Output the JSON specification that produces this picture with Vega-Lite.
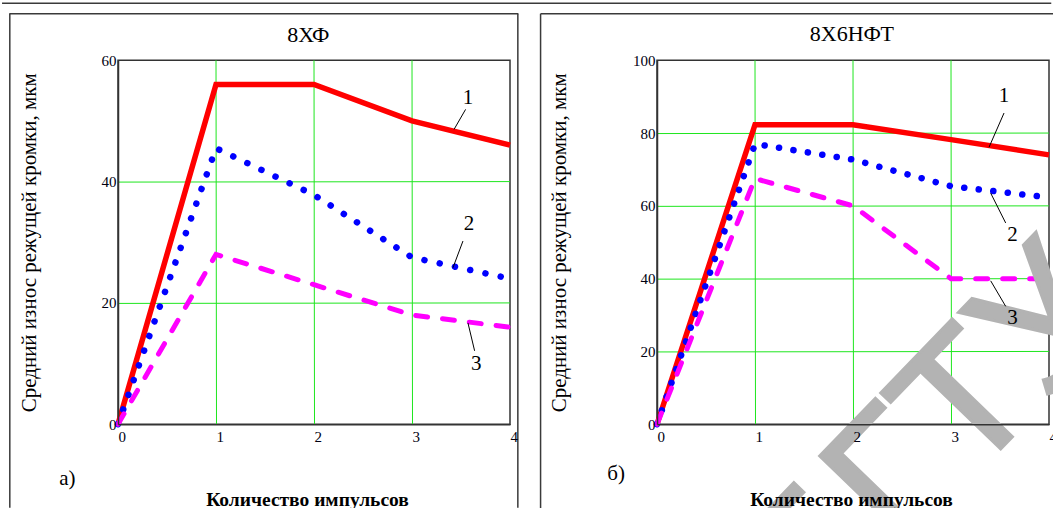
{
  "$schema": "https://vega.github.io/schema/vega-lite/v6.json",
  "background": "white",
  "padding": {"left": 0, "top": 1.25, "right": 0, "bottom": 0},
  "autosize": {"type": "pad"},
  "spacing": 147,
  "bounds": "flush",
  "config": {
    "view": {"stroke": "#333333", "strokeWidth": 1.5},
    "axis": {
      "grid": false, "zindex": 1,
      "domain": true, "domainColor": "#333333", "domainWidth": 1.5, "ticks": false,
      "labelFont": "Liberation Serif", "labelFontSize": 15, "labelColor": "#000011", "labelFlush": false,
      "titleFont": "Liberation Serif", "titleColor": "#000000", "titleFontWeight": "normal"
    },
    "text": {"font": "Liberation Serif", "color": "#000000"}
  },
  "datasets": {
    "curvesA": [
      {"curve": "1", "x": 0, "y": 0}, {"curve": "1", "x": 1, "y": 56}, {"curve": "1", "x": 2, "y": 56}, {"curve": "1", "x": 3, "y": 50}, {"curve": "1", "x": 4, "y": 46},
      {"curve": "2", "x": 0, "y": 0}, {"curve": "2", "x": 1, "y": 45.5}, {"curve": "2", "x": 2, "y": 37.8}, {"curve": "2", "x": 3, "y": 27.5}, {"curve": "2", "x": 4, "y": 24},
      {"curve": "3", "x": 0, "y": 0}, {"curve": "3", "x": 1, "y": 28}, {"curve": "3", "x": 2, "y": 23}, {"curve": "3", "x": 3, "y": 18}, {"curve": "3", "x": 4, "y": 16}
    ],
    "curvesB": [
      {"curve": "1", "x": 0, "y": 0}, {"curve": "1", "x": 1, "y": 82.3}, {"curve": "1", "x": 2, "y": 82.3}, {"curve": "1", "x": 3, "y": 78.2}, {"curve": "1", "x": 4, "y": 74},
      {"curve": "2", "x": 0, "y": 0}, {"curve": "2", "x": 1, "y": 77}, {"curve": "2", "x": 2, "y": 72.7}, {"curve": "2", "x": 3, "y": 65.4}, {"curve": "2", "x": 4, "y": 62.3},
      {"curve": "3", "x": 0, "y": 0}, {"curve": "3", "x": 1, "y": 67.5}, {"curve": "3", "x": 2, "y": 60}, {"curve": "3", "x": 3, "y": 40}, {"curve": "3", "x": 4, "y": 40}
    ],
    "gridA": [
      {"x": 1, "y": 0, "x2": 1, "y2": 60}, {"x": 2, "y": 0, "x2": 2, "y2": 60}, {"x": 3, "y": 0, "x2": 3, "y2": 60},
      {"x": 0, "y": 20, "x2": 4, "y2": 20}, {"x": 0, "y": 40, "x2": 4, "y2": 40}
    ],
    "gridB": [
      {"x": 1, "y": 0, "x2": 1, "y2": 100}, {"x": 2, "y": 0, "x2": 2, "y2": 100}, {"x": 3, "y": 0, "x2": 3, "y2": 100},
      {"x": 0, "y": 20, "x2": 4, "y2": 20}, {"x": 0, "y": 40, "x2": 4, "y2": 40}, {"x": 0, "y": 60, "x2": 4, "y2": 60}, {"x": 0, "y": 80, "x2": 4, "y2": 80}
    ],
    "frameA": [
      {"x": -1.1832, "y": 69.39, "x2": 9.523, "y2": 69.39},
      {"x": -1.109, "y": 67.65, "x2": 4.085, "y2": 67.65},
      {"x": -1.104, "y": 67.65, "x2": -1.104, "y2": -13.78},
      {"x": 4.080, "y": 67.65, "x2": 4.080, "y2": -13.78}
    ],
    "frameB": [
      {"x": -1.188, "y": 112.8, "x2": 4.048, "y2": 112.8},
      {"x": -1.188, "y": 112.8, "x2": -1.188, "y2": -23.2}
    ],
    "leadA": [
      {"x": 3.547, "y": 51.9, "x2": 3.429, "y2": 48.6},
      {"x": 3.520, "y": 30.2, "x2": 3.418, "y2": 25.8},
      {"x": 3.639, "y": 12.1, "x2": 3.571, "y2": 16.7}
    ],
    "leadB": [
      {"x": 3.541, "y": 85.5, "x2": 3.388, "y2": 76.1},
      {"x": 3.558, "y": 55.3, "x2": 3.405, "y2": 63.5},
      {"x": 3.558, "y": 32.4, "x2": 3.405, "y2": 39.4}
    ],
    "textA": [
      {"kind": "num", "t": "1", "x": 3.571, "y": 53.8},
      {"kind": "num", "t": "2", "x": 3.582, "y": 33.0},
      {"kind": "num", "t": "3", "x": 3.656, "y": 9.9},
      {"kind": "title", "t": "8ХФ", "x": 1.942, "y": 63.04},
      {"kind": "panel", "t": "а)", "x": -0.517, "y": -9.0}
    ],
    "textB": [
      {"kind": "num", "t": "1", "x": 3.541, "y": 90.1},
      {"kind": "num", "t": "2", "x": 3.627, "y": 52.1},
      {"kind": "num", "t": "3", "x": 3.627, "y": 29.1},
      {"kind": "title", "t": "8Х6НФТ", "x": 1.988, "y": 105.2},
      {"kind": "panel", "t": "б)", "x": -0.418, "y": -13.7},
      {"kind": "mark", "t": "БГТУ", "x": 3.205, "y": -15.2}
    ]
  },
  "hconcat": [
    {
      "width": 392,
      "height": 364,
      "encoding": {
        "x": {"field": "x", "type": "quantitative", "scale": {"domain": [0, 4], "nice": false, "zero": false},
          "axis": {"zindex": 1, "values": [0, 1, 2, 3, 4], "format": "d", "labelAlign": "left", "labelDx": -1, "labelPadding": 5, "labelAngle": 0,
            "title": "Количество импульсов", "titleFontSize": 19.5, "titleFontWeight": "bold", "titleX": 189, "titleY": 75, "titleAlign": "center", "titleBaseline": "middle"}},
        "y": {"field": "y", "type": "quantitative", "scale": {"domain": [0, 60], "nice": false, "zero": false},
          "axis": {"zindex": 1, "values": [0, 20, 40, 60], "format": "d", "labelPadding": 2, "labelBaseline": "middle",
            "title": "Средний износ режущей кромки, мкм", "titleFontSize": 21, "titleX": -89, "titleY": 182, "titleAngle": -90, "titleAlign": "center", "titleBaseline": "middle"}}
      },
      "layer": [
        {"data": {"name": "gridA"}, "mark": {"type": "rule", "color": "#1ee61e", "strokeWidth": 1, "xOffset": 0.5, "yOffset": 0.5}, "encoding": {"x2": {"field": "x2"}, "y2": {"field": "y2"}}},
        {"data": {"name": "frameA"}, "mark": {"type": "rule", "color": "#3a3a3a", "strokeWidth": 1.5}, "encoding": {"x2": {"field": "x2"}, "y2": {"field": "y2"}}},
        {"data": {"name": "curvesA"}, "transform": [{"filter": "datum.curve == '1'"}], "mark": {"type": "line", "color": "#ff0000", "strokeWidth": 5.5, "strokeJoin": "miter"}},
        {"data": {"name": "curvesA"}, "transform": [{"filter": "datum.curve == '2'"}], "mark": {"type": "line", "color": "#0000ff", "strokeWidth": 6.5, "strokeCap": "round", "strokeDash": [0.1, 15.5]}},
        {"data": {"name": "curvesA"}, "transform": [{"filter": "datum.curve == '3'"}], "mark": {"type": "line", "color": "#ff00ff", "strokeWidth": 5, "strokeCap": "round", "strokeDash": [12, 15]}},
        {"data": {"name": "leadA"}, "mark": {"type": "rule", "color": "#000000", "strokeWidth": 1}, "encoding": {"x2": {"field": "x2"}, "y2": {"field": "y2"}}},
        {"data": {"name": "textA"}, "transform": [{"filter": "datum.kind == 'num'"}], "mark": {"type": "text", "fontSize": 21, "align": "center", "baseline": "middle"}, "encoding": {"text": {"field": "t"}}},
        {"data": {"name": "textA"}, "transform": [{"filter": "datum.kind == 'title'"}], "mark": {"type": "text", "fontSize": 22, "align": "center", "baseline": "alphabetic"}, "encoding": {"text": {"field": "t"}}},
        {"data": {"name": "textA"}, "transform": [{"filter": "datum.kind == 'panel'"}], "mark": {"type": "text", "fontSize": 21, "align": "center", "baseline": "middle"}, "encoding": {"text": {"field": "t"}}}
      ]
    },
    {
      "width": 392,
      "height": 364,
      "encoding": {
        "x": {"field": "x", "type": "quantitative", "scale": {"domain": [0, 4], "nice": false, "zero": false},
          "axis": {"zindex": 1, "values": [0, 1, 2, 3, 4], "format": "d", "labelAlign": "left", "labelDx": -1, "labelPadding": 5, "labelAngle": 0,
            "title": "Количество импульсов", "titleFontSize": 19.5, "titleFontWeight": "bold", "titleX": 194, "titleY": 75, "titleAlign": "center", "titleBaseline": "middle"}},
        "y": {"field": "y", "type": "quantitative", "scale": {"domain": [0, 100], "nice": false, "zero": false},
          "axis": {"zindex": 1, "values": [0, 20, 40, 60, 80, 100], "format": "d", "labelPadding": 2, "labelBaseline": "middle",
            "title": "Средний износ режущей кромки, мкм", "titleFontSize": 21, "titleX": -98, "titleY": 182, "titleAngle": -90, "titleAlign": "center", "titleBaseline": "middle"}}
      },
      "layer": [
        {"data": {"name": "gridB"}, "mark": {"type": "rule", "color": "#1ee61e", "strokeWidth": 1, "xOffset": 0.5, "yOffset": 0.5}, "encoding": {"x2": {"field": "x2"}, "y2": {"field": "y2"}}},
        {"data": {"name": "frameB"}, "mark": {"type": "rule", "color": "#3a3a3a", "strokeWidth": 1.5}, "encoding": {"x2": {"field": "x2"}, "y2": {"field": "y2"}}},
        {"data": {"name": "curvesB"}, "transform": [{"filter": "datum.curve == '1'"}], "mark": {"type": "line", "color": "#ff0000", "strokeWidth": 5.5, "strokeJoin": "miter"}},
        {"data": {"name": "curvesB"}, "transform": [{"filter": "datum.curve == '2'"}], "mark": {"type": "line", "color": "#0000ff", "strokeWidth": 6.5, "strokeCap": "round", "strokeDash": [0.1, 14.5]}},
        {"data": {"name": "curvesB"}, "transform": [{"filter": "datum.curve == '3'"}], "mark": {"type": "line", "color": "#ff00ff", "strokeWidth": 5, "strokeCap": "round", "strokeDash": [12, 15]}},
        {"data": {"name": "textB"}, "transform": [{"filter": "datum.kind == 'mark'"}], "mark": {"type": "text", "font": "Liberation Sans", "fontSize": 182, "angle": -46, "color": "#b3b3b3", "stroke": "#b3b3b3", "strokeWidth": 3, "align": "center", "baseline": "alphabetic"}, "encoding": {"text": {"field": "t"}}},
        {"data": {"name": "leadB"}, "mark": {"type": "rule", "color": "#000000", "strokeWidth": 1}, "encoding": {"x2": {"field": "x2"}, "y2": {"field": "y2"}}},
        {"data": {"name": "textB"}, "transform": [{"filter": "datum.kind == 'num'"}], "mark": {"type": "text", "fontSize": 21, "align": "center", "baseline": "middle"}, "encoding": {"text": {"field": "t"}}},
        {"data": {"name": "textB"}, "transform": [{"filter": "datum.kind == 'title'"}], "mark": {"type": "text", "fontSize": 22, "align": "center", "baseline": "alphabetic"}, "encoding": {"text": {"field": "t"}}},
        {"data": {"name": "textB"}, "transform": [{"filter": "datum.kind == 'panel'"}], "mark": {"type": "text", "fontSize": 21, "align": "center", "baseline": "middle"}, "encoding": {"text": {"field": "t"}}}
      ]
    }
  ]
}
